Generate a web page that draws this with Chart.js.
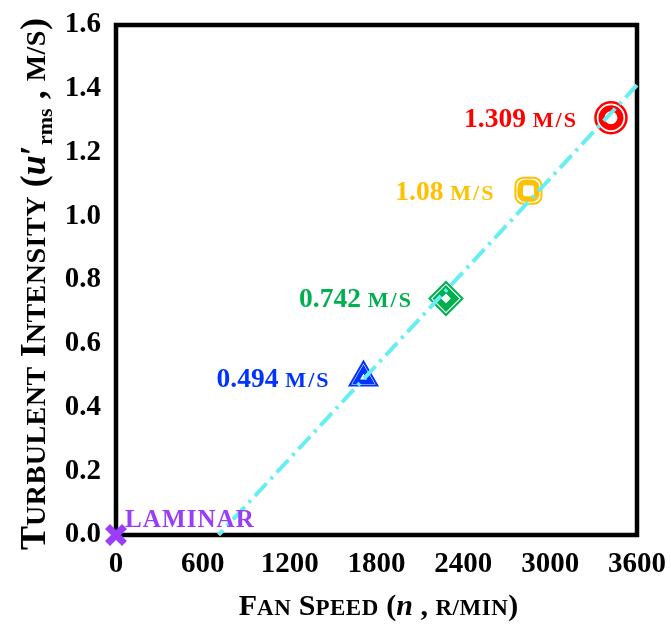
<!DOCTYPE html>
<html><head><meta charset="utf-8">
<script src="https://cdn.jsdelivr.net/npm/chart.js@4/dist/chart.umd.min.js"></script>
<style>html,body{margin:0;padding:0;background:#fff}</style>
</head><body>
<canvas id="c" width="671" height="626"></canvas>
<script>
// ---- data ----
const fanSpeed      = [0, 1710, 2280, 2850, 3420];          // r/min
const turbIntensity = [0, 0.494, 0.742, 1.08, 1.309];       // m/s
const valueLabels   = ['laminar', '0.494', '0.742', '1.08', '1.309'];
const pointColors   = ['#9b3cfa', '#0033ff', '#00b050', '#ffc000', '#ff0000'];
const pointShapes   = ['crossRot', 'triangle', 'rectRot', 'rectRounded', 'circle'];
const xTicks = [0, 600, 1200, 1800, 2400, 3000, 3600];
const yTicks = [0, 0.2, 0.4, 0.6, 0.8, 1.0, 1.2, 1.4, 1.6];

// linear trend through the turbulent points (least squares)
const tx = fanSpeed.slice(1), ty = turbIntensity.slice(1);
const mx = tx.reduce((a,b)=>a+b,0)/tx.length, my = ty.reduce((a,b)=>a+b,0)/ty.length;
let sxy=0, sxx=0; tx.forEach((x,i)=>{sxy+=(x-mx)*(ty[i]-my); sxx+=(x-mx)*(x-mx);});
const slope = sxy/sxx, icpt = my - slope*mx;
const trendData = [{x:3600, y:slope*3600+icpt}, {x:-icpt/slope, y:0}];

const pts = fanSpeed.map((x,i)=>({x, y:turbIntensity[i]}));
const FONT = "'Liberation Serif','Times New Roman',serif";

function fontOf(r){ return (r.it?'italic ':'')+'bold '+r.s+'px '+FONT; }
function setRun(ctx,r){ ctx.font=fontOf(r); try{ctx.letterSpacing=(r.ls||0)+'px';}catch(e){} }
function runsWidth(ctx,runs){ let w=0; for(const r of runs){ setRun(ctx,r); w+=ctx.measureText(r.t).width; } return w; }
function drawRuns(ctx,runs,x,y,align,color){
  const w=runsWidth(ctx,runs);
  let cx = align==='right'? x-w : (align==='center'? x-w/2 : x);
  ctx.textAlign='left'; ctx.textBaseline='alphabetic';
  for(const r of runs){ setRun(ctx,r); ctx.fillStyle=r.c||color; ctx.fillText(r.t,cx,y+(r.dy||0)); cx+=ctx.measureText(r.t).width; }
  try{ctx.letterSpacing='0px';}catch(e){}
}
// small caps: original capitals at big size, lower-case letters as capitals at small size
function sc(str,big,small,ls){
  const runs=[];
  for(const ch of str){
    let r;
    if(/[a-z]/.test(ch)) r={t:ch.toUpperCase(), s:small, ls:ls||0};
    else if(ch==='/') r={t:ch, s:small, ls:ls||0};
    else r={t:ch, s:big};
    const last=runs[runs.length-1];
    if(last && last.s===r.s && !last.it && (last.ls||0)===(r.ls||0)) last.t+=r.t; else runs.push(r);
  }
  return runs;
}

const decorations = {
  id:'decorations',
  beforeDatasetsDraw(chart){
    const {ctx, chartArea:a} = chart;
    ctx.save(); ctx.strokeStyle='#000'; ctx.lineWidth=4.5;
    ctx.strokeRect(a.left, a.top, a.right-a.left, a.bottom-a.top);
    ctx.restore();
  },
  afterDatasetsDraw(chart){
    const {ctx, scales:{x,y}} = chart;
    ctx.save();
    fanSpeed.forEach((v,i)=>{
      const px=x.getPixelForValue(v), py=y.getPixelForValue(turbIntensity[i]);
      if(i===0){
        drawRuns(ctx, sc(valueLabels[i],25,25,1.1), px+9, py-8, 'left', pointColors[i]);
      } else {
        const runs=[{t:valueLabels[i]+' ', s:27.5}].concat(sc('m/s',27.5,22,2));
        drawRuns(ctx, runs, px-33, py+9, 'right', pointColors[i]);
      }
    });
    // x title
    const xr = sc('Fan Speed (',30,23,0.5).concat([{t:'n',s:30,it:true}]).concat(sc(' , r/min)',30,23,0.5));
    drawRuns(ctx, xr, (chart.chartArea.left+chart.chartArea.right)/2+2, 615, 'center', '#000');
    // y title
    const yr = sc('Turbulent Intensity (',36,28,0.5)
      .concat([{t:'u',s:36,it:true},{t:'\u2032',s:36},{t:'rms',s:22,dy:7}])
      .concat(sc(' , m/s)',36,28,0.5));
    ctx.translate(45, 284); ctx.rotate(-Math.PI/2);
    drawRuns(ctx, yr, 0, 0, 'center', '#000');
    ctx.restore();
  }
};

new Chart(document.getElementById('c'), {
  type:'scatter',
  data:{ datasets:[
    { label:'trend', data:trendData, showLine:true, pointRadius:0, borderColor:'#66eef2',
      borderWidth:4, borderDash:[17,6,3,6], order:0, clip:false },
    { label:'inner', data:pts, pointStyle:pointShapes, pointRadius:[0,8.5,9.2,9.6,9.5],
      pointBorderWidth:[0,4.5,6,5.5,6], pointBackgroundColor:'#fff', pointBorderColor:pointColors,
      pointHoverRadius:0, order:1, clip:false },
    { label:'outer', data:pts, pointStyle:pointShapes, pointRadius:[12,16,16.5,15.2,15.5],
      pointBorderWidth:[7,2,2,2,2.5], pointBackgroundColor:'#fff', pointBorderColor:pointColors,
      order:2, clip:false }
  ]},
  options:{
    responsive:false, animation:false, devicePixelRatio:1,
    layout:{padding:{left:0, top:25, right:34, bottom:0}},
    plugins:{legend:{display:false}, tooltip:{enabled:false}},
    scales:{
      x:{ type:'linear', min:0, max:3600,
          afterBuildTicks:s=>{ s.ticks=xTicks.map(v=>({value:v})); },
          afterFit:s=>{ s.height=91; s.paddingLeft=0; s.paddingRight=0; },
          grid:{display:false, drawTicks:false}, border:{display:false},
          ticks:{ padding:12, color:'#000', maxRotation:0, autoSkip:false,
                  font:{family:FONT, size:29, weight:'bold'}, callback:v=>String(v) } },
      y:{ type:'linear', min:0, max:1.6,
          afterBuildTicks:s=>{ s.ticks=yTicks.map(v=>({value:v})); },
          afterFit:s=>{ s.width=116; s.paddingTop=0; s.paddingBottom=0; },
          grid:{display:false, drawTicks:false}, border:{display:false},
          ticks:{ padding:15, color:'#000', autoSkip:false,
                  font:{family:FONT, size:29, weight:'bold'}, callback:v=>Number(v).toFixed(1) } }
    }
  },
  plugins:[decorations]
});
</script>
</body></html>
